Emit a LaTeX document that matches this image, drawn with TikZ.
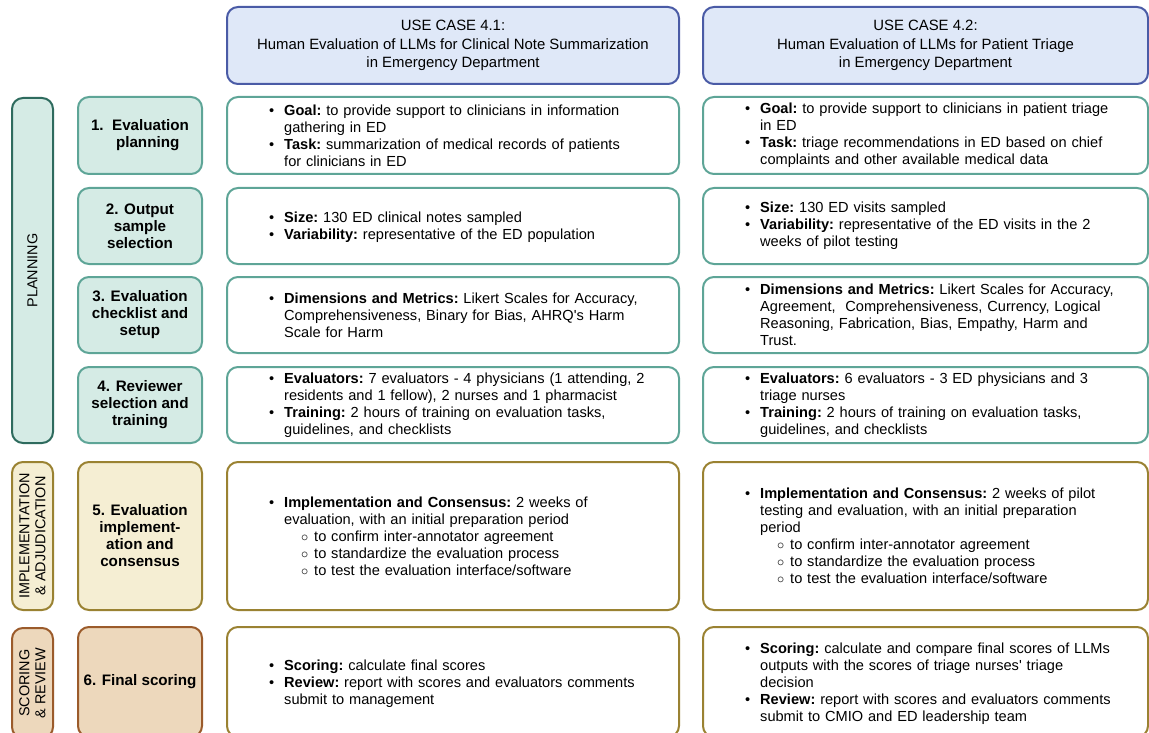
\documentclass[tikz,border=0pt]{standalone}
\usepackage{fontspec}
\setmainfont{Liberation Sans}
\definecolor{hdfill}{HTML}{DFE8F8}
\definecolor{hdline}{HTML}{4A5BA6}
\definecolor{plfill}{HTML}{D5EBE5}
\definecolor{plline}{HTML}{5EA597}
\definecolor{pldark}{HTML}{2E6B5E}
\definecolor{imfill}{HTML}{F5EED3}
\definecolor{imline}{HTML}{9A8232}
\definecolor{scfill}{HTML}{EDD8BC}
\definecolor{scline}{HTML}{9B5B2B}
\newcommand{\pitem}[2]{\hangindent=15pt\hangafter=1\noindent\makebox[15pt][l]{\textbullet}\textbf{#1} #2\par}
\newcommand{\sitem}[1]{\hangindent=45pt\hangafter=1\noindent\hspace*{32pt}\makebox[13pt][l]{$\circ$}#1\par}
\tikzset{
  box/.style={draw, line width=2pt, rounded corners=11pt, inner sep=0pt},
  hdbox/.style={box, draw=hdline, fill=hdfill, minimum height=77pt, align=center,
    font=\fontsize{14.9}{18.5}\selectfont},
  stepbox/.style={box, minimum width=124pt, align=center,
    font=\fontsize{15.2}{17}\selectfont\bfseries},
  phasebox/.style={box, rotate=90, minimum height=41pt, align=center,
    font=\fontsize{14.4}{16}\selectfont},
  cbox/.style={box, fill=white},
  ctext/.style={anchor=west, inner sep=0pt, text width=430pt, align=left,
    font=\fontsize{14.6}{17}\selectfont\frenchspacing}
}
\begin{document}
\begin{tikzpicture}[x=1pt,y=-1pt]
\useasboundingbox (0,0) rectangle (1149,733);
% use case headers
\node[hdbox, minimum width=452pt] (h1) at (453,45.5) {USE CASE 4.1:\\Human Evaluation of LLMs for Clinical Note Summarization\\in Emergency Department};
\node[hdbox, minimum width=445pt] (h2) at (925.5,45.5) {USE CASE 4.2:\\Human Evaluation of LLMs for Patient Triage\\in Emergency Department};
% phases
\node[phasebox, draw=pldark, fill=plfill, minimum width=345pt] (p1) at (32.5,270.5) {PLANNING};
\node[phasebox, draw=imline, fill=imfill, minimum width=148pt] (p2) at (32.5,536) {IMPLEMENTATION\\\& ADJUDICATION};
\node[phasebox, draw=scline, fill=scfill, minimum width=110pt] (p3) at (32.5,683) {SCORING\\\& REVIEW};
% steps
\node[stepbox, draw=plline, fill=plfill, minimum height=77pt, align=left] (s1) at (140,135.5) {1.~~Evaluation\\\hspace*{25pt}planning};
\node[stepbox, draw=plline, fill=plfill, minimum height=76pt] (s2) at (140,226) {2. Output\\sample\\selection};
\node[stepbox, draw=plline, fill=plfill, minimum height=76pt] (s3) at (140,315) {3. Evaluation\\checklist and\\setup};
\node[stepbox, draw=plline, fill=plfill, minimum height=76pt] (s4) at (140,405) {4. Reviewer\\selection and\\training};
\node[stepbox, draw=imline, fill=imfill, minimum height=148pt] (s5) at (140,536) {5. Evaluation\\implement-\\ation and\\consensus};
\node[stepbox, draw=scline, fill=scfill, minimum height=110pt] (s6) at (140,682) {6. Final scoring};
% content boxes, use case 4.1
\node[cbox, draw=plline, minimum width=452pt, minimum height=77pt] (c1a) at (453,135.5) {};
\node[cbox, draw=plline, minimum width=452pt, minimum height=76pt] (c2a) at (453,226) {};
\node[cbox, draw=plline, minimum width=452pt, minimum height=76pt] (c3a) at (453,315) {};
\node[cbox, draw=plline, minimum width=452pt, minimum height=76pt] (c4a) at (453,405) {};
\node[cbox, draw=imline, minimum width=452pt, minimum height=148pt] (c5a) at (453,536) {};
\node[cbox, draw=imline, minimum width=452pt, minimum height=110pt] (c6a) at (453,682) {};
% content boxes, use case 4.2
\node[cbox, draw=plline, minimum width=445pt, minimum height=77pt] (c1b) at (925.5,135.5) {};
\node[cbox, draw=plline, minimum width=445pt, minimum height=76pt] (c2b) at (925.5,226) {};
\node[cbox, draw=plline, minimum width=445pt, minimum height=76pt] (c3b) at (925.5,315) {};
\node[cbox, draw=plline, minimum width=445pt, minimum height=76pt] (c4b) at (925.5,405) {};
\node[cbox, draw=imline, minimum width=445pt, minimum height=148pt] (c5b) at (925.5,536) {};
\node[cbox, draw=imline, minimum width=445pt, minimum height=110pt] (c6b) at (925.5,682) {};
% texts, use case 4.1
\node[ctext] (t1a) at ([xshift=43pt]c1a.west) {\pitem{Goal:}{to provide support to clinicians in information\newline gathering in ED}\pitem{Task:}{summarization of medical records of patients\newline for clinicians in ED}};
\node[ctext] (t2a) at ([xshift=43pt,yshift=-1pt]c2a.west) {\pitem{Size:}{130 ED clinical notes sampled}\pitem{Variability:}{representative of the ED population}};
\node[ctext] (t3a) at ([xshift=43pt]c3a.west) {\pitem{Dimensions and Metrics:}{Likert Scales for Accuracy,\newline Comprehensiveness, Binary for Bias, AHRQ\textquotesingle s Harm\newline Scale for Harm}};
\node[ctext] (t4a) at ([xshift=43pt]c4a.west) {\pitem{Evaluators:}{7 evaluators - 4 physicians (1 attending, 2\newline residents and 1 fellow), 2 nurses and 1 pharmacist}\pitem{Training:}{2 hours of training on evaluation tasks,\newline guidelines, and checklists}};
\node[ctext] (t5a) at ([xshift=43pt]c5a.west) {\pitem{Implementation and Consensus:}{2 weeks of\newline evaluation, with an initial preparation period}\sitem{to confirm inter-annotator agreement}\sitem{to standardize the evaluation process}\sitem{to test the evaluation interface/software}};
\node[ctext] (t6a) at ([xshift=43pt,yshift=-2pt]c6a.west) {\pitem{Scoring:}{calculate final scores}\pitem{Review:}{report with scores and evaluators comments\newline submit to management}};
% texts, use case 4.2
\node[ctext] (t1b) at ([xshift=43pt]c1b.west) {\pitem{Goal:}{to provide support to clinicians in patient triage\newline in ED}\pitem{Task:}{triage recommendations in ED based on chief\newline complaints and other available medical data}};
\node[ctext] (t2b) at ([xshift=43pt]c2b.west) {\pitem{Size:}{130 ED visits sampled}\pitem{Variability:}{representative of the ED visits in the 2\newline weeks of pilot testing}};
\node[ctext] (t3b) at ([xshift=43pt]c3b.west) {\pitem{Dimensions and Metrics:}{Likert Scales for Accuracy,\newline Agreement,\ \ Comprehensiveness, Currency, Logical\newline Reasoning, Fabrication, Bias, Empathy, Harm and\newline Trust.}};
\node[ctext] (t4b) at ([xshift=43pt]c4b.west) {\pitem{Evaluators:}{6 evaluators - 3 ED physicians and 3\newline triage nurses}\pitem{Training:}{2 hours of training on evaluation tasks,\newline guidelines, and checklists}};
\node[ctext] (t5b) at ([xshift=43pt]c5b.west) {\pitem{Implementation and Consensus:}{2 weeks of pilot\newline testing and evaluation, with an initial preparation\newline period}\sitem{to confirm inter-annotator agreement}\sitem{to standardize the evaluation process}\sitem{to test the evaluation interface/software}};
\node[ctext] (t6b) at ([xshift=43pt,yshift=-2pt]c6b.west) {\pitem{Scoring:}{calculate and compare final scores of LLMs\newline outputs with the scores of triage nurses\textquotesingle\ triage\newline decision}\pitem{Review:}{report with scores and evaluators comments\newline submit to CMIO and ED leadership team}};
\end{tikzpicture}
\end{document}
